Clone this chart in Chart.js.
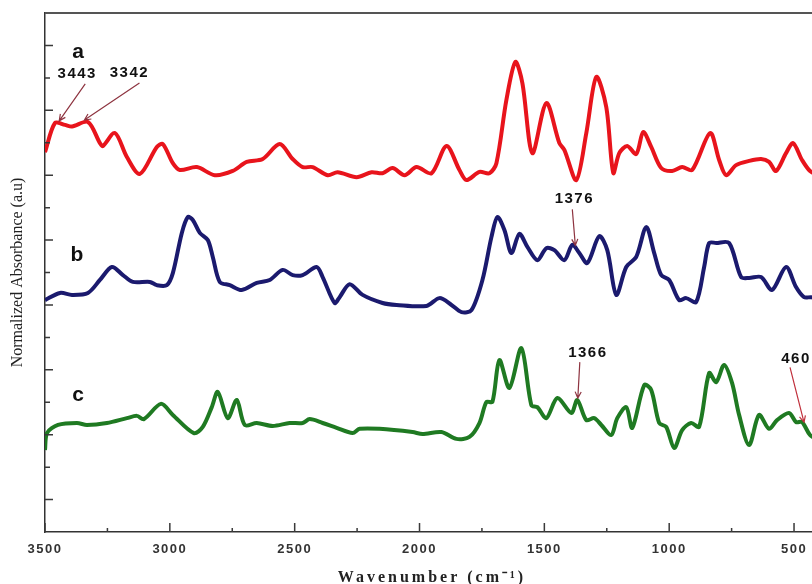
<!DOCTYPE html>
<html>
<head>
<meta charset="utf-8">
<script src="https://cdn.jsdelivr.net/npm/chart.js@4.4.1/dist/chart.umd.min.js"></script>
<style>
  html, body { margin: 0; padding: 0; background: #fff; overflow: hidden; }
  #wrap { width: 820px; height: 590px; }
</style>
</head>
<body>
<div id="wrap"><canvas id="grafico" width="820" height="590"></canvas></div>
<script>
// Espectros FTIR normalizados (a, b, c)
const xTickValues = [3500, 3000, 2500, 2000, 1500, 1000, 500];
const xMinorTicks = [3250, 2750, 2250, 1750, 1250, 750];

const wavenumbersA = [3500, 3460, 3420, 3392, 3328, 3280, 3268, 3220, 3172, 3120, 3052, 3028, 2988, 2960, 2892, 2820, 2748, 2692, 2628, 2560, 2508, 2468, 2428, 2368, 2328, 2252, 2192, 2148, 2108, 2060, 2012, 1952, 1892, 1840, 1812, 1760, 1720, 1692, 1652, 1616, 1588, 1548, 1492, 1440, 1420, 1372, 1332, 1292, 1252, 1224, 1200, 1168, 1132, 1104, 1072, 1032, 988, 948, 908, 836, 800, 772, 732, 680, 632, 600, 572, 532, 504, 468, 436, 400];
const absorbanceA = [11.71, 12.61, 12.55, 12.50, 12.64, 11.99, 11.90, 12.30, 11.56, 11.04, 11.87, 11.96, 11.37, 11.16, 11.25, 11.00, 11.13, 11.41, 11.50, 11.96, 11.50, 11.25, 11.25, 11.00, 11.09, 10.94, 11.09, 11.06, 11.22, 11.00, 11.25, 11.06, 11.90, 11.16, 10.85, 11.10, 11.06, 11.37, 13.32, 14.49, 13.84, 11.68, 13.22, 11.99, 11.78, 10.85, 12.30, 14.03, 13.10, 11.07, 11.68, 11.90, 11.65, 12.33, 11.87, 11.22, 11.13, 11.25, 11.16, 12.30, 11.47, 11.00, 11.31, 11.44, 11.50, 11.41, 11.13, 11.68, 11.99, 11.47, 11.13, 11.00];

const wavenumbersB = [3500, 3440, 3392, 3328, 3280, 3232, 3188, 3148, 3080, 3052, 3012, 2988, 2952, 2928, 2908, 2880, 2848, 2828, 2800, 2760, 2712, 2652, 2600, 2548, 2508, 2468, 2412, 2388, 2340, 2320, 2280, 2228, 2148, 2092, 1972, 1920, 1872, 1832, 1792, 1748, 1712, 1688, 1660, 1632, 1600, 1568, 1528, 1492, 1460, 1420, 1388, 1360, 1328, 1280, 1248, 1212, 1172, 1132, 1092, 1060, 1032, 1000, 960, 932, 892, 860, 840, 812, 760, 712, 680, 632, 588, 532, 492, 460, 432, 400];
const absorbanceB = [7.15, 7.37, 7.31, 7.37, 7.77, 8.17, 7.92, 7.71, 7.71, 7.61, 7.61, 7.98, 9.22, 9.71, 9.62, 9.22, 9.00, 8.48, 7.71, 7.61, 7.46, 7.68, 7.77, 8.08, 7.92, 7.92, 8.17, 7.86, 7.06, 7.24, 7.64, 7.31, 7.06, 7.00, 6.97, 7.21, 7.00, 6.78, 6.84, 7.77, 9.09, 9.71, 9.31, 8.60, 9.19, 8.79, 8.38, 8.75, 8.69, 8.38, 8.85, 8.60, 8.29, 9.12, 8.69, 7.31, 8.17, 8.48, 9.40, 8.60, 7.92, 7.77, 7.15, 7.21, 7.09, 8.17, 8.91, 8.91, 8.91, 7.86, 7.83, 7.86, 7.46, 8.17, 7.55, 7.24, 7.24, 7.20];

const wavenumbersC = [3500, 3492, 3448, 3372, 3332, 3252, 3172, 3132, 3104, 3036, 2988, 2904, 2868, 2832, 2808, 2768, 2732, 2700, 2652, 2588, 2520, 2468, 2440, 2388, 2332, 2268, 2240, 2160, 2028, 1988, 1912, 1852, 1800, 1760, 1732, 1708, 1680, 1640, 1592, 1552, 1528, 1492, 1448, 1392, 1368, 1332, 1300, 1272, 1232, 1208, 1172, 1148, 1100, 1072, 1040, 1012, 980, 948, 912, 880, 840, 812, 780, 748, 720, 680, 640, 600, 568, 520, 492, 468, 436, 400];
const absorbanceC = [2.53, 3.05, 3.30, 3.36, 3.30, 3.36, 3.51, 3.58, 3.48, 3.95, 3.61, 3.05, 3.24, 3.85, 4.32, 3.51, 4.07, 3.30, 3.36, 3.27, 3.36, 3.36, 3.48, 3.36, 3.21, 3.05, 3.18, 3.18, 3.08, 3.02, 3.08, 2.87, 2.93, 3.36, 4.01, 4.01, 5.30, 4.44, 5.67, 3.91, 3.85, 3.51, 4.13, 3.67, 4.07, 3.45, 3.51, 3.30, 2.99, 3.51, 3.85, 3.21, 4.53, 4.38, 3.36, 3.24, 2.59, 3.14, 3.36, 3.24, 4.90, 4.62, 5.15, 4.59, 3.61, 2.68, 3.61, 3.18, 3.45, 3.67, 3.39, 3.39, 2.99, 2.80];

const seriesNames = ['a', 'b', 'c'];
const seriesColors = ['#e8141c', '#1b1a6e', '#1f7a22'];

const peakLabels = ['3443', '3342', '1376', '1366', '460'];
const peakWavenumbers = [3443, 3342, 1376, 1366, 460];
const peakSeries = [0, 0, 1, 2, 2];

const allWavenumbers = [wavenumbersA, wavenumbersB, wavenumbersC];
const allAbsorbance = [absorbanceA, absorbanceB, absorbanceC];

function pontos(xs, ys) {
    return xs.map((x, i) => ({ x: x, y: ys[i] }));
}

// valor interpolado da serie num numero de onda (para a ponta das setas)
function valorEm(serie, w) {
    const xs = allWavenumbers[serie];
    const ys = allAbsorbance[serie];
    for (let i = 0; i < xs.length - 1; i++) {
        if (w <= xs[i] && w >= xs[i + 1]) {
            const t = (xs[i] - w) / (xs[i] - xs[i + 1]);
            return ys[i] + t * (ys[i + 1] - ys[i]);
        }
    }
    return ys[ys.length - 1];
}

function comEspacamento(fn, px) {
    return function () {
        const ctx = this.ctx;
        ctx.save();
        ctx.letterSpacing = px;
        fn.apply(this, arguments);
        ctx.restore();
    };
}

// moldura superior e marcas internas dos eixos
const marcasPlugin = {
    id: 'marcas',
    afterDraw(chart) {
        const ctx = chart.ctx;
        const area = chart.chartArea;
        const sx = chart.scales.x;
        const sy = chart.scales.y;
        ctx.save();
        ctx.strokeStyle = '#3a3a3a';
        ctx.lineWidth = 1.5;
        ctx.beginPath();
        xTickValues.forEach(v => {
            const px = sx.getPixelForValue(v);
            ctx.moveTo(px, area.bottom);
            ctx.lineTo(px, area.bottom - 9);
        });
        xMinorTicks.forEach(v => {
            const px = sx.getPixelForValue(v);
            ctx.moveTo(px, area.bottom);
            ctx.lineTo(px, area.bottom - 4);
        });
        for (let v = 1; v < 16; v++) {
            const py = sy.getPixelForValue(v);
            ctx.moveTo(area.left, py);
            ctx.lineTo(area.left + (v % 2 === 1 ? 8 : 5), py);
        }
        ctx.stroke();
        ctx.strokeStyle = '#555';
        ctx.lineWidth = 2;
        ctx.beginPath();
        ctx.moveTo(area.left, area.top);
        ctx.lineTo(chart.width, area.top);
        ctx.stroke();
        ctx.restore();
    }
};

// letras das curvas e setas dos picos
const anotacoesPlugin = {
    id: 'anotacoes',
    afterDatasetsDraw(chart) {
        const ctx = chart.ctx;
        const sx = chart.scales.x;
        const sy = chart.scales.y;
        const letraPos = [[78, 52], [77, 255], [78, 395]];
        ctx.save();
        ctx.fillStyle = '#111';
        ctx.font = 'bold 21px "Liberation Sans", Arial, sans-serif';
        ctx.textAlign = 'center';
        ctx.textBaseline = 'middle';
        seriesNames.forEach((n, i) => {
            ctx.fillText(n, letraPos[i][0], letraPos[i][1]);
        });

        // deslocamento do texto e do inicio da seta em relacao a ponta
        const textoOff = [[18, -47], [45, -47], [-1, -47], [10, -45], [-8, -63]];
        const caudaOff = [[26, -37], [55, -37], [-3, -36], [2, -36], [-14, -55]];
        ctx.font = 'bold 15px "Liberation Sans", Arial, sans-serif';
        ctx.letterSpacing = '1.5px';
        peakLabels.forEach((txt, i) => {
            const w = peakWavenumbers[i];
            const tx = sx.getPixelForValue(w);
            const ty = sy.getPixelForValue(valorEm(peakSeries[i], w)) - 3;
            ctx.fillStyle = '#111';
            ctx.fillText(txt, tx + textoOff[i][0], ty + textoOff[i][1]);
            const ax = tx + caudaOff[i][0];
            const ay = ty + caudaOff[i][1];
            const ang = Math.atan2(ty - ay, tx - ax);
            ctx.strokeStyle = i === 4 ? '#c0303c' : '#8e3440';
            ctx.lineWidth = 1.2;
            ctx.beginPath();
            ctx.moveTo(ax, ay);
            ctx.lineTo(tx, ty);
            ctx.moveTo(tx - 7 * Math.cos(ang - 0.45), ty - 7 * Math.sin(ang - 0.45));
            ctx.lineTo(tx, ty);
            ctx.lineTo(tx - 7 * Math.cos(ang + 0.45), ty - 7 * Math.sin(ang + 0.45));
            ctx.stroke();
        });
        ctx.restore();
    }
};

const datasets = seriesNames.map((n, i) => ({
    label: n,
    data: pontos(allWavenumbers[i], allAbsorbance[i]),
    borderColor: seriesColors[i],
    borderWidth: 4,
    pointRadius: 0,
    tension: 0.3,
    fill: false
}));

new Chart(document.getElementById('grafico').getContext('2d'), {
    type: 'line',
    data: { datasets: datasets },
    options: {
        responsive: false,
        animation: false,
        events: [],
        layout: { padding: { left: 0, right: 1, top: 13, bottom: 0 } },
        plugins: {
            legend: { display: false },
            tooltip: { enabled: false }
        },
        scales: {
            x: {
                type: 'linear',
                reverse: true,
                min: 400,
                max: 3500,
                afterBuildTicks(scale) {
                    scale.ticks = xTickValues.map(v => ({ value: v }));
                },
                afterFit(scale) {
                    scale.height = 58;
                    if (!scale._espacado) {
                        const proto = Object.getPrototypeOf(scale);
                        scale.drawTitle = comEspacamento(proto.drawTitle, '3px');
                        scale.drawLabels = comEspacamento(proto.drawLabels, '1.5px');
                        scale._espacado = true;
                    }
                },
                grid: { display: false, drawTicks: false },
                border: { display: true, color: '#333', width: 1.5 },
                ticks: {
                    padding: 10,
                    color: '#333',
                    font: { family: '"Liberation Sans", Arial, sans-serif', size: 13, weight: 'bold' },
                    maxRotation: 0,
                    autoSkip: false,
                    callback: function(value) {
                        return String(value);
                    }
                },
                title: {
                    display: true,
                    text: 'Wavenumber (cm⁻¹)',
                    color: '#222',
                    font: { family: '"Liberation Serif", "Times New Roman", serif', size: 16, weight: 'bold' },
                    padding: { top: 0, bottom: 3 }
                }
            },
            y: {
                min: 0,
                max: 16,
                afterFit(scale) {
                    scale.width = 45;
                },
                grid: { display: false, drawTicks: false },
                border: { display: true, color: '#333', width: 1.5 },
                ticks: { display: false, stepSize: 1 },
                title: {
                    display: true,
                    text: 'Normalized Absorbance (a.u)',
                    color: '#222',
                    font: { family: '"Liberation Serif", "Times New Roman", serif', size: 16 },
                    padding: { top: 8, bottom: 0 }
                }
            }
        }
    },
    plugins: [marcasPlugin, anotacoesPlugin]
});
</script>
</body>
</html>
